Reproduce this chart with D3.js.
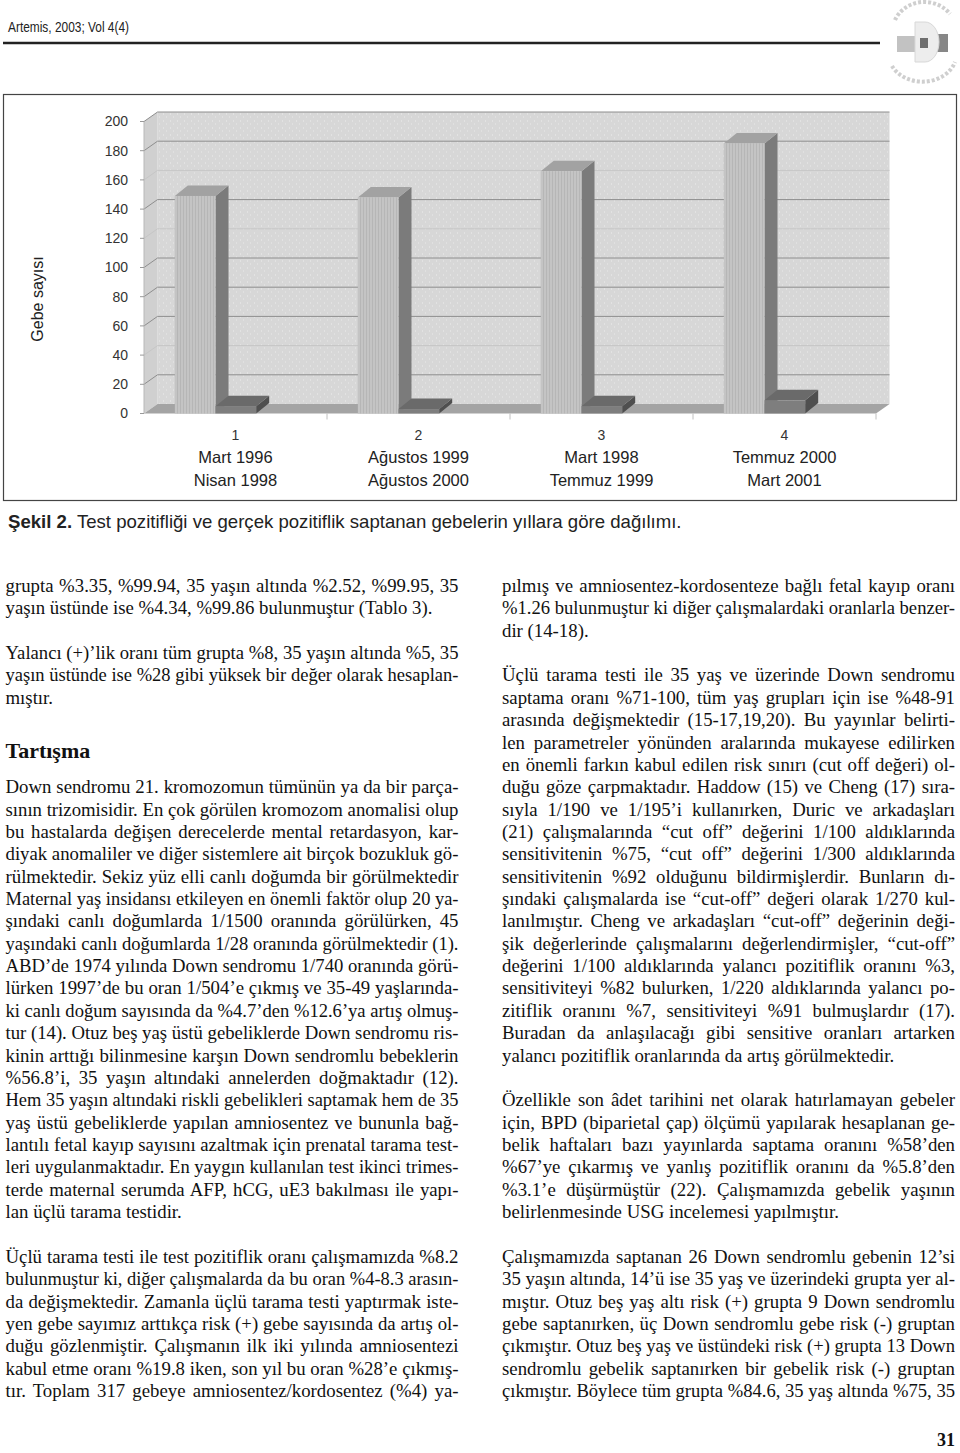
<!DOCTYPE html>
<html><head><meta charset="utf-8">
<script src="https://cdn.jsdelivr.net/npm/d3@7"></script>
<style>body{margin:0;background:#fff}svg{display:block}</style>
</head><body>
<svg id="page" width="960" height="1453"></svg>
<script>
// ---------------- DATA ----------------
const categories = ["1", "2", "3", "4"];
const periodStart = ["Mart 1996", "Ağustos 1999", "Mart 1998", "Temmuz 2000"];
const periodEnd = ["Nisan 1998", "Ağustos 2000", "Temmuz 1999", "Mart 2001"];
const testPositive = [149, 148, 166, 185];   // light bars
const truePositive = [5, 3, 5, 9];           // dark bars
const seriesKeys = ["testPositive", "truePositive"];
const yTicks = [0, 20, 40, 60, 80, 100, 120, 140, 160, 180, 200];
const yTitle = "Gebe sayısı";
const headerText = "Artemis, 2003; Vol 4(4)";
const captionBold = "Şekil 2.";
const captionRest = " Test pozitifliği ve gerçek pozitiflik saptanan gebelerin yıllara göre dağılımı.";
const heading = "Tartışma";
const pageNumber = "31";

// [line index, text, justified]
const leftLines = [
 [0,"grupta %3.35, %99.94, 35 yaşın altında %2.52, %99.95, 35",1],
 [1,"yaşın üstünde ise %4.34, %99.86 bulunmuştur (Tablo 3).",0],
 [3,"Yalancı (+)’lik oranı tüm grupta %8, 35 yaşın altında %5, 35",1],
 [4,"yaşın üstünde ise %28 gibi yüksek bir değer olarak hesaplan-",1],
 [5,"mıştır.",0],
 [9,"Down sendromu 21. kromozomun tümünün ya da bir parça-",1],
 [10,"sının trizomisidir. En çok görülen kromozom anomalisi olup",1],
 [11,"bu hastalarda değişen derecelerde mental retardasyon, kar-",1],
 [12,"diyak anomaliler ve diğer sistemlere ait birçok bozukluk gö-",1],
 [13,"rülmektedir. Sekiz yüz elli canlı doğumda bir görülmektedir",1],
 [14,"Maternal yaş insidansı etkileyen en önemli faktör olup 20 ya-",1],
 [15,"şındaki canlı doğumlarda 1/1500 oranında görülürken, 45",1],
 [16,"yaşındaki canlı doğumlarda 1/28 oranında görülmektedir (1).",1],
 [17,"ABD’de 1974 yılında Down sendromu 1/740 oranında görü-",1],
 [18,"lürken 1997’de bu oran 1/504’e çıkmış ve 35-49 yaşlarında-",1],
 [19,"ki canlı doğum sayısında da %4.7’den %12.6’ya artış olmuş-",1],
 [20,"tur (14). Otuz beş yaş üstü gebeliklerde Down sendromu ris-",1],
 [21,"kinin arttığı bilinmesine karşın Down sendromlu bebeklerin",1],
 [22,"%56.8’i, 35 yaşın altındaki annelerden doğmaktadır (12).",1],
 [23,"Hem 35 yaşın altındaki riskli gebelikleri saptamak hem de 35",1],
 [24,"yaş üstü gebeliklerde yapılan amniosentez ve bununla bağ-",1],
 [25,"lantılı fetal kayıp sayısını azaltmak için prenatal tarama test-",1],
 [26,"leri uygulanmaktadır. En yaygın kullanılan test ikinci trimes-",1],
 [27,"terde maternal serumda AFP, hCG, uE3 bakılması ile yapı-",1],
 [28,"lan üçlü tarama testidir.",0],
 [30,"Üçlü tarama testi ile test pozitiflik oranı çalışmamızda %8.2",1],
 [31,"bulunmuştur ki, diğer çalışmalarda da bu oran %4-8.3 arasın-",1],
 [32,"da değişmektedir. Zamanla üçlü tarama testi yaptırmak iste-",1],
 [33,"yen gebe sayımız arttıkça risk (+) gebe sayısında da artış ol-",1],
 [34,"duğu gözlenmiştir. Çalışmanın ilk iki yılında amniosentezi",1],
 [35,"kabul etme oranı %19.8 iken, son yıl bu oran %28’e çıkmış-",1],
 [36,"tır. Toplam 317 gebeye amniosentez/kordosentez (%4) ya-",1]
];
const rightLines = [
 [0,"pılmış ve amniosentez-kordosenteze bağlı fetal kayıp oranı",1],
 [1,"%1.26 bulunmuştur ki diğer çalışmalardaki oranlarla benzer-",1],
 [2,"dir (14-18).",0],
 [4,"Üçlü tarama testi ile 35 yaş ve üzerinde Down sendromu",1],
 [5,"saptama oranı %71-100, tüm yaş grupları için ise %48-91",1],
 [6,"arasında değişmektedir (15-17,19,20). Bu yayınlar belirti-",1],
 [7,"len parametreler yönünden aralarında mukayese edilirken",1],
 [8,"en önemli farkın kabul edilen risk sınırı (cut off değeri) ol-",1],
 [9,"duğu göze çarpmaktadır. Haddow (15) ve Cheng (17) sıra-",1],
 [10,"sıyla 1/190 ve 1/195’i kullanırken, Duric ve arkadaşları",1],
 [11,"(21) çalışmalarında “cut off” değerini 1/100 aldıklarında",1],
 [12,"sensitivitenin %75, “cut off” değerini 1/300 aldıklarında",1],
 [13,"sensitivitenin %92 olduğunu bildirmişlerdir. Bunların dı-",1],
 [14,"şındaki çalışmalarda ise “cut-off” değeri olarak 1/270 kul-",1],
 [15,"lanılmıştır. Cheng ve arkadaşları “cut-off” değerinin deği-",1],
 [16,"şik değerlerinde çalışmalarını değerlendirmişler, “cut-off”",1],
 [17,"değerini 1/100 aldıklarında yalancı pozitiflik oranını %3,",1],
 [18,"sensitiviteyi %82 bulurken, 1/220 aldıklarında yalancı po-",1],
 [19,"zitiflik oranını %7, sensitiviteyi %91 bulmuşlardır (17).",1],
 [20,"Buradan da anlaşılacağı gibi sensitive oranları artarken",1],
 [21,"yalancı pozitiflik oranlarında da artış görülmektedir.",0],
 [23,"Özellikle son âdet tarihini net olarak hatırlamayan gebeler",1],
 [24,"için, BPD (biparietal çap) ölçümü yapılarak hesaplanan ge-",1],
 [25,"belik haftaları bazı yayınlarda saptama oranını %58’den",1],
 [26,"%67’ye çıkarmış ve yanlış pozitiflik oranını da %5.8’den",1],
 [27,"%3.1’e düşürmüştür (22). Çalışmamızda gebelik yaşının",1],
 [28,"belirlenmesinde USG incelemesi yapılmıştır.",0],
 [30,"Çalışmamızda saptanan 26 Down sendromlu gebenin 12’si",1],
 [31,"35 yaşın altında, 14’ü ise 35 yaş ve üzerindeki grupta yer al-",1],
 [32,"mıştır. Otuz beş yaş altı risk (+) grupta 9 Down sendromlu",1],
 [33,"gebe saptanırken, üç Down sendromlu gebe risk (-) gruptan",1],
 [34,"çıkmıştır. Otuz beş yaş ve üstündeki risk (+) grupta 13 Down",1],
 [35,"sendromlu gebelik saptanırken bir gebelik risk (-) gruptan",1],
 [36,"çıkmıştır. Böylece tüm grupta %84.6, 35 yaş altında %75, 35",1]
];

// ---------------- PAGE ----------------
const svg = d3.select("#page");
const sans = "Arial, 'Liberation Sans', sans-serif";
const serif = "'Liberation Serif', 'Times New Roman', serif";

// header
svg.append("text").attr("x", 8).attr("y", 32).attr("font-family", sans)
  .attr("font-size", 15.5).attr("fill", "#222").attr("textLength", 121)
  .attr("lengthAdjust", "spacingAndGlyphs").text(headerText);
svg.append("line").attr("x1", 3).attr("x2", 880).attr("y1", 43).attr("y2", 43)
  .attr("stroke", "#222").attr("stroke-width", 2.5);

// logo (faint emblem)
const logo = svg.append("g").attr("opacity", 0.7);
logo.append("path").attr("d", "M895,20 A32,30 0 0 1 950,14").attr("fill", "none")
  .attr("stroke", "#bbb").attr("stroke-width", 4).attr("stroke-dasharray", "3,2");
logo.append("path").attr("d", "M892,66 A34,28 0 0 0 955,62").attr("fill", "none")
  .attr("stroke", "#bbb").attr("stroke-width", 4).attr("stroke-dasharray", "3,2");
logo.append("rect").attr("x", 897).attr("y", 36).attr("width", 20).attr("height", 16).attr("fill", "#a9a9a9");
logo.append("rect").attr("x", 934).attr("y", 34).attr("width", 14).attr("height", 18).attr("fill", "#555");
logo.append("path").attr("d", "M915,22 L925,22 A14,20 0 0 1 925,62 L915,62 Z").attr("fill", "#e6e6e6")
  .attr("stroke", "#c8c8c8");
logo.append("rect").attr("x", 920).attr("y", 38).attr("width", 8).attr("height", 10).attr("fill", "#333");

// ---------------- CHART ----------------
const chart = svg.append("g");
const y = d3.scaleLinear().domain([0, 200]).range([413.5, 121.5]);
const x = d3.scaleBand().domain(categories).range([144, 876]).padding(0);
const xs = d3.scaleBand().domain(seriesKeys).range([0, 81.4]).padding(0);
const barShift = x.bandwidth() / 2 - 20 - xs.bandwidth();
const wd = { dx: 13.5, dy: -9.5 };   // wall depth
const bd = { dx: 13, dy: -10.5 };    // bar depth

const defs = svg.append("defs");
const pat = defs.append("pattern").attr("id", "stripe").attr("width", 3).attr("height", 3)
  .attr("patternUnits", "userSpaceOnUse");
pat.append("rect").attr("width", 3).attr("height", 3).attr("fill", "#c4c4c4");
pat.append("rect").attr("width", 1).attr("height", 3).attr("fill", "#b6b6b6");
const pat2 = defs.append("pattern").attr("id", "speck").attr("width", 7).attr("height", 7)
  .attr("patternUnits", "userSpaceOnUse");
pat2.append("rect").attr("width", 7).attr("height", 7).attr("fill", "#d7d7d7");
pat2.append("rect").attr("x", 2).attr("y", 1).attr("width", 1).attr("height", 2).attr("fill", "#e2e2e2");
pat2.append("rect").attr("x", 5).attr("y", 4).attr("width", 1).attr("height", 2).attr("fill", "#e0e0e0");

// chart frame
svg.append("rect").attr("x", 3.5).attr("y", 94.5).attr("width", 953).attr("height", 406)
  .attr("fill", "none").attr("stroke", "#444").attr("stroke-width", 1.2);

const x0 = x.range()[0], x1 = x.range()[1];
const y0 = y(0), yTop = y(200);
chart.append("rect").attr("x", x0 + wd.dx).attr("y", yTop + wd.dy)
  .attr("width", x1 - x0).attr("height", y0 - yTop).attr("fill", "url(#speck)");
chart.append("polygon").attr("points", [[x0, yTop], [x0 + wd.dx, yTop + wd.dy], [x0 + wd.dx, y0 + wd.dy], [x0, y0]].join(" "))
  .attr("fill", "#d0d0d0");
chart.append("polygon").attr("points", [[x0, y0], [x1, y0], [x1 + wd.dx, y0 + wd.dy], [x0 + wd.dx, y0 + wd.dy]].join(" "))
  .attr("fill", "#a4a4a4");

const faint = new Set([40, 120, 160]);
yTicks.filter(v => v > 0).forEach(v => {
  const c = faint.has(v) ? "#c6c6c6" : "#8e8e8e";
  chart.append("line").attr("x1", x0 + wd.dx).attr("x2", x1 + wd.dx)
    .attr("y1", y(v) + wd.dy).attr("y2", y(v) + wd.dy).attr("stroke", c).attr("stroke-width", 1);
  chart.append("line").attr("x1", x0).attr("x2", x0 + wd.dx)
    .attr("y1", y(v)).attr("y2", y(v) + wd.dy).attr("stroke", c).attr("stroke-width", 1);
});
chart.append("line").attr("x1", x0).attr("x2", x0).attr("y1", yTop).attr("y2", y0).attr("stroke", "#b8b8b8");

yTicks.forEach(v => {
  chart.append("line").attr("x1", x0 - 4).attr("x2", x0).attr("y1", y(v)).attr("y2", y(v))
    .attr("stroke", "#999");
  chart.append("text").attr("x", 128).attr("y", y(v)).attr("dy", "0.35em")
    .attr("text-anchor", "end").attr("font-family", sans).attr("font-size", 14)
    .attr("fill", "#333").text(v);
});

categories.forEach(c => {
  const xe = x(c) + x.bandwidth();
  chart.append("line").attr("x1", xe).attr("x2", xe).attr("y1", y0).attr("y2", y0 + 6)
    .attr("stroke", "#c0c0c0");
});

const styles = {
  testPositive: { front: "url(#stripe)", top: "#a2a2a2", side: "#7b7b7b" },
  truePositive: { front: "#7e7e7e", top: "#6a6a6a", side: "#4f4f4f" }
};
const values = { testPositive, truePositive };
categories.forEach((c, i) => {
  seriesKeys.forEach(k => {
    const v = values[k][i];
    const bx = x(c) + barShift + xs(k), w = xs.bandwidth(), top = y(v);
    const st = styles[k];
    const g = chart.append("g");
    g.append("polygon").attr("points", [[bx + w, top], [bx + w + bd.dx, top + bd.dy], [bx + w + bd.dx, y0 + bd.dy], [bx + w, y0]].join(" "))
      .attr("fill", st.side);
    g.append("polygon").attr("points", [[bx, top], [bx + w, top], [bx + w + bd.dx, top + bd.dy], [bx + bd.dx, top + bd.dy]].join(" "))
      .attr("fill", st.top);
    g.append("rect").attr("x", bx).attr("y", top).attr("width", w).attr("height", y0 - top)
      .attr("fill", st.front);
  });
});

categories.forEach((c, i) => {
  const cx = x(c) + x.bandwidth() / 2;
  chart.append("text").attr("x", cx).attr("y", 435).attr("dy", "0.35em").attr("text-anchor", "middle")
    .attr("font-family", sans).attr("font-size", 14).attr("fill", "#333").text(c);
  chart.append("text").attr("x", cx).attr("y", 457).attr("dy", "0.35em").attr("text-anchor", "middle")
    .attr("font-family", sans).attr("font-size", 16.5).attr("fill", "#222").text(periodStart[i]);
  chart.append("text").attr("x", cx).attr("y", 480).attr("dy", "0.35em").attr("text-anchor", "middle")
    .attr("font-family", sans).attr("font-size", 16.5).attr("fill", "#222").text(periodEnd[i]);
});

chart.append("text").attr("transform", "translate(37,299) rotate(-90)").attr("dy", "0.35em")
  .attr("text-anchor", "middle").attr("font-family", sans).attr("font-size", 16)
  .attr("fill", "#222").text(yTitle);

const cap = svg.append("text").attr("x", 8).attr("y", 528).attr("font-family", sans)
  .attr("font-size", 15.5).attr("fill", "#222");
cap.append("tspan").attr("font-weight", "bold").text(captionBold);
cap.append("tspan").text(captionRest);
(function fit() {
  const L = cap.node().getComputedTextLength();
  if (L > 0) cap.attr("font-size", 15.5 * 674 / L);
})();

// ---------------- BODY TEXT ----------------
const FS = 18.8, LH = 22.36, BASE = 592;
function renderLine(text, xLeft, yb, width, justify) {
  const t = svg.append("text").attr("x", xLeft).attr("y", yb).attr("font-family", serif)
    .attr("font-size", FS).attr("fill", "#111").text(text);
  const L = t.node().getComputedTextLength();
  const spaces = (text.match(/ /g) || []).length;
  if (L > width) {
    t.attr("textLength", width).attr("lengthAdjust", "spacingAndGlyphs");
  } else if (justify && spaces > 0) {
    const ws = (width - L) / spaces;
    t.style("word-spacing", ws + "px");
    const L2 = t.node().getComputedTextLength();
    if (Math.abs(L2 - width) > 2) {
      t.style("word-spacing", null).attr("textLength", width).attr("lengthAdjust", "spacing");
    }
  }
}
leftLines.forEach(([i, s, j]) => renderLine(s, 5.5, BASE + i * LH, 453, j));
rightLines.forEach(([i, s, j]) => renderLine(s, 502, BASE + i * LH, 453, j));

svg.append("text").attr("x", 5.5).attr("y", 758).attr("font-family", serif)
  .attr("font-weight", "bold").attr("font-size", 22).attr("fill", "#111").text(heading);

svg.append("text").attr("x", 955).attr("y", 1446).attr("text-anchor", "end")
  .attr("font-family", serif).attr("font-weight", "bold").attr("font-size", 18)
  .attr("fill", "#111").text(pageNumber);
</script>
</body></html>
